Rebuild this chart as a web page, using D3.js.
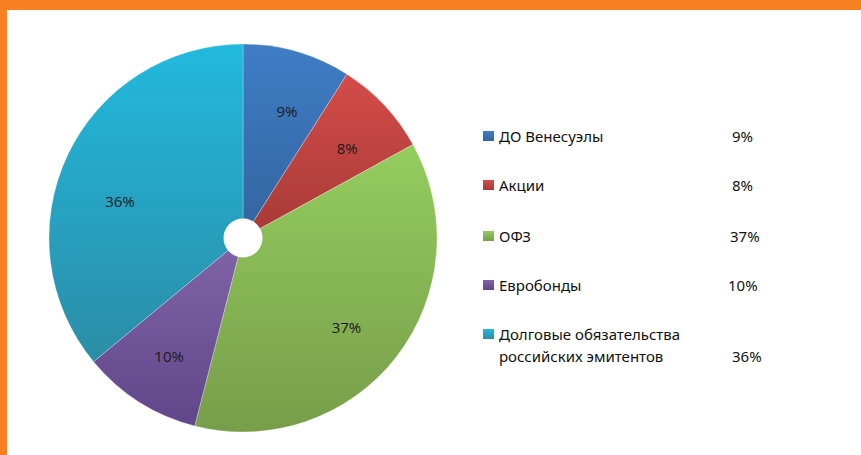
<!DOCTYPE html>
<html>
<head>
<meta charset="utf-8">
<script src="https://cdn.jsdelivr.net/npm/d3@7"></script>
<style>
  body { margin: 0; background: #fff; }
  svg { display: block; }
</style>
</head>
<body>
<script>
// data
var categories = ["ДО Венесуэлы", "Акции", "ОФЗ", "Евробонды", "Долговые обязательства российских эмитентов"];
var legendLines = [["ДО Венесуэлы"], ["Акции"], ["ОФЗ"], ["Евробонды"], ["Долговые обязательства", "российских эмитентов"]];
var values = [9, 8, 37, 10, 36];
var topColors = ["#3f7dc5", "#d44c48", "#94cd5e", "#8164a8", "#22b9de"];
var bottomColors = ["#33649f", "#a63a37", "#779d49", "#604789", "#2b8da6"];

var W = 861, H = 455,
    cx = 243, cy = 238, radius = 194, hole = 19.5;

// label nudges (Excel moves the big slice label a bit)
var labelShift = [[6, 4], [5, 4], [-4, 6], [-1, 4], [0, 22]];

var svg = d3.select("body").append("svg")
    .attr("width", W)
    .attr("height", H);

// orange frame (top and left)
svg.append("rect").attr("x", 0).attr("y", 0).attr("width", W).attr("height", 10).attr("fill", "#f78122");
svg.append("rect").attr("x", 0).attr("y", 0).attr("width", 7).attr("height", H).attr("fill", "#f78122");

var defs = svg.append("defs");
values.forEach(function(v, i) {
  var gr = defs.append("linearGradient")
      .attr("id", "grad" + i)
      .attr("x1", 0).attr("y1", 0).attr("x2", 0).attr("y2", 1);
  gr.append("stop").attr("offset", "0%").attr("stop-color", topColors[i]);
  gr.append("stop").attr("offset", "100%").attr("stop-color", bottomColors[i]);
});

var pie = d3.pie().sort(null).value(function(d) { return d; });
var arc = d3.arc().innerRadius(0).outerRadius(radius);
var labelArc = d3.arc().innerRadius(136).outerRadius(136);

var g = svg.append("g").attr("transform", "translate(" + cx + "," + cy + ")");

var arcs = pie(values);

g.selectAll("path.slice")
    .data(arcs)
  .enter().append("path")
    .attr("class", "slice")
    .attr("d", arc)
    .attr("fill", function(d, i) { return "url(#grad" + i + ")"; })
    .attr("stroke", "rgba(255,255,255,0.45)")
    .attr("stroke-width", 0.6);

g.append("circle").attr("r", hole).attr("fill", "#fff");

g.selectAll("text.lbl")
    .data(arcs)
  .enter().append("text")
    .attr("class", "lbl")
    .attr("transform", function(d, i) {
      var c = labelArc.centroid(d);
      return "translate(" + (c[0] + labelShift[i][0]) + "," + (c[1] + labelShift[i][1]) + ")";
    })
    .attr("text-anchor", "middle")
    .attr("dy", "0.35em")
    .attr("font-family", "Open Sans, sans-serif")
    .attr("font-size", 15)
    .attr("fill", "#1a1a1a")
    .text(function(d) { return d.data + "%"; });

// legend
var rowY = [137, 186, 237, 286, 335];
var pctX = [732, 732, 730, 728, 732];
var legend = svg.append("g").attr("font-family", "Noto Sans, sans-serif").attr("font-size", 15).attr("fill", "#111");

legendLines.forEach(function(lines, i) {
  var y = rowY[i];
  var gr = defs.append("linearGradient")
      .attr("id", "lg" + i).attr("x1", 0).attr("y1", 0).attr("x2", 0).attr("y2", 1);
  gr.append("stop").attr("offset", "0%").attr("stop-color", topColors[i]);
  gr.append("stop").attr("offset", "100%").attr("stop-color", bottomColors[i]);
  legend.append("rect")
      .attr("x", 483).attr("y", y - 6)
      .attr("width", 11).attr("height", 10)
      .attr("fill", "url(#lg" + i + ")");
  lines.forEach(function(t, j) {
    legend.append("text")
        .attr("x", 499).attr("y", y + j * 22)
        .attr("dy", "0.35em")
        .text(t);
  });
  legend.append("text")
      .attr("x", pctX[i]).attr("y", y + (lines.length - 1) * 22)
      .attr("dy", "0.35em")
      .text(values[i] + "%");
});
</script>
</body>
</html>
